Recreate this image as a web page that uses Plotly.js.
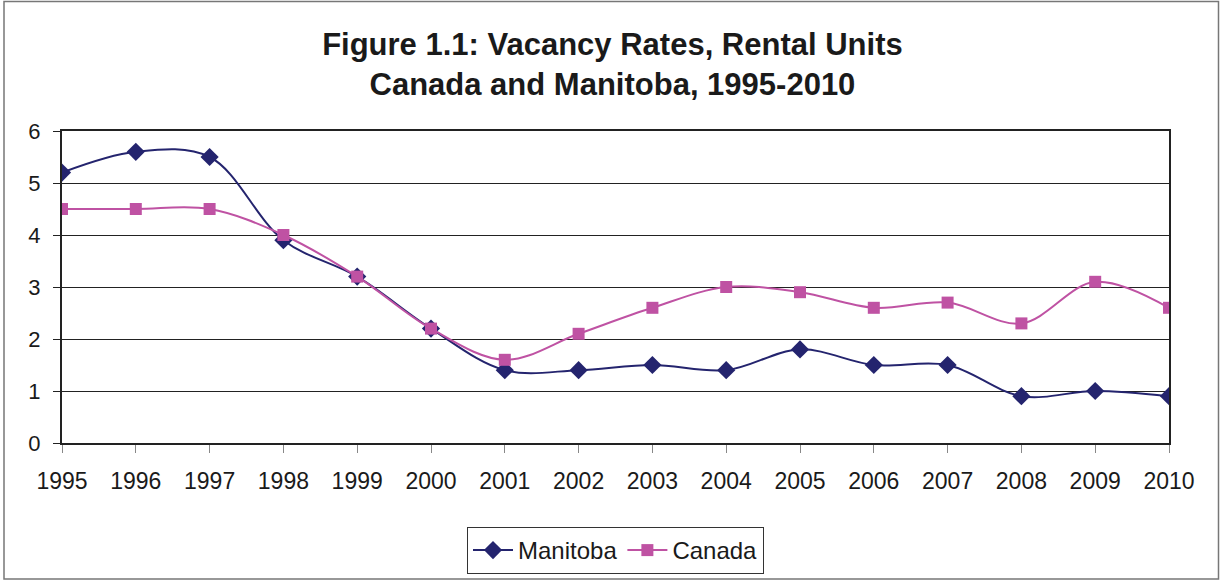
<!DOCTYPE html>
<html>
<head>
<meta charset="utf-8">
<script src="https://cdn.plot.ly/plotly-3.0.1.min.js"></script>
<style>html,body{margin:0;padding:0;background:#fff;}#chart{width:1220px;height:581px;}</style>
</head>
<body>
<div id="chart"></div>
<script>
const years = ['1995','1996','1997','1998','1999','2000','2001','2002','2003','2004','2005','2006','2007','2008','2009','2010'];
const manitoba = [5.2, 5.6, 5.5, 3.9, 3.2, 2.2, 1.4, 1.4, 1.5, 1.4, 1.8, 1.5, 1.5, 0.9, 1.0, 0.9];
const canada = [4.5, 4.5, 4.5, 4.0, 3.2, 2.2, 1.6, 2.1, 2.6, 3.0, 2.9, 2.6, 2.7, 2.3, 3.1, 2.6];
const yTicks = [0, 1, 2, 3, 4, 5, 6];

const W = 1220, H = 581;
const mL = 62, mR = 51, mT = 131, mB = 138;
const pw = W - mL - mR, ph = H - mT - mB;
function px(x){ return (x - mL) / pw; }
function py(y){ return (H - mB - y) / ph; }

const traces = [
  {x: years, y: manitoba, name: 'Manitoba', type: 'scatter', mode: 'lines+markers',
   line: {color: '#24246E', width: 2, shape: 'spline', smoothing: 1},
   marker: {symbol: 'diamond', size: 14, color: '#24246E'}},
  {x: years, y: canada, name: 'Canada', type: 'scatter', mode: 'lines+markers',
   line: {color: '#BF52A3', width: 2, shape: 'spline', smoothing: 1},
   marker: {symbol: 'square', size: 12, color: '#BF52A3'}}
];

const layout = {
  width: W, height: H,
  margin: {l: mL, r: mR, t: mT, b: mB, pad: 0, autoexpand: false},
  paper_bgcolor: '#fff', plot_bgcolor: '#fff',
  font: {family: 'Liberation Sans, Arial, sans-serif', color: '#1a1a1a', size: 22},
  title: {text: '<b>Figure 1.1: Vacancy Rates, Rental Units<br>Canada and Manitoba, 1995-2010</b>',
          font: {size: 31, color: '#1a1a1a'}, x: 0.502, xanchor: 'center',
          y: 1 - 55 / H, yanchor: 'middle'},
  xaxis: {type: 'category', range: [0, years.length - 1], showgrid: false, zeroline: false,
          ticks: 'outside', ticklen: 8, tickcolor: '#888', tickwidth: 1,
          showline: true, linecolor: '#222', linewidth: 2, mirror: true,
          tickfont: {size: 23}, ticklabelstandoff: 8},
  yaxis: {range: [0, 6], tickvals: yTicks, showgrid: true, gridcolor: '#222', gridwidth: 1,
          zeroline: false, ticks: 'outside', ticklen: 7, tickcolor: '#222',
          showline: true, linecolor: '#222', linewidth: 2, mirror: true,
          tickfont: {size: 22}, ticklabelstandoff: 8},
  showlegend: true,
  legend: {orientation: 'h', x: 0.5, xanchor: 'center', y: py(527), yanchor: 'top',
           bordercolor: '#333', borderwidth: 1, font: {size: 24}, bgcolor: '#fff',
           itemwidth: 40},
  shapes: [{type: 'rect', xref: 'paper', yref: 'paper',
            x0: px(4), x1: px(1218.5), y0: py(579), y1: py(1.5),
            line: {color: '#777', width: 1.5}}]
};

Plotly.newPlot('chart', traces, layout, {staticPlot: true});
</script>
</body>
</html>
